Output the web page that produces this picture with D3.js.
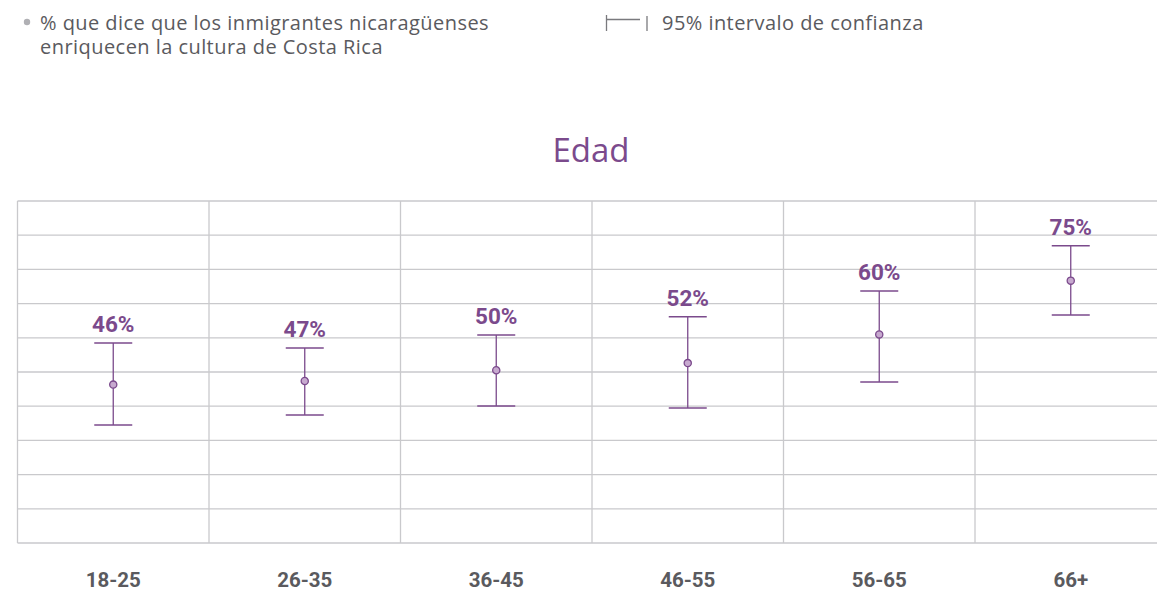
<!DOCTYPE html>
<html>
<head>
<meta charset="utf-8">
<script src="https://cdn.jsdelivr.net/npm/d3@7"></script>
<style>
  body { margin: 0; background: #fff; }
  text { font-family: "Open Sans", Lato, sans-serif; }
</style>
</head>
<body>
<div id="chart"></div>
<script>
// data
const groups = ['18-25', '26-35', '36-45', '46-55', '56-65', '66+'];
const values = [46, 47, 50, 52, 60, 75];
const lower = [34.7, 37.5, 40.0, 39.5, 46.7, 65.4];
const upper = [57.6, 56.2, 59.8, 64.9, 72.1, 84.7];
const gridTicks = d3.range(0, 11);

const purple = '#7b4a8c';
const grey = '#5a5a5e';
const width = 1157, height = 591;

const svg = d3.select('#chart').append('svg')
  .attr('width', width)
  .attr('height', height);

// scales
const x = d3.scaleBand()
  .domain(groups)
  .range([17.5, 17.5 + 6 * 191.5]);
const y = d3.scaleLinear()
  .domain([0, 100])
  .range([549.5, 191]);
const yGrid = d3.scaleLinear()
  .domain([0, 10])
  .range([543, 201]);

// grid
const grid = svg.append('g').attr('class', 'grid');
grid.selectAll('line.h')
  .data(gridTicks)
  .enter().append('line')
    .attr('class', 'h')
    .attr('x1', x.range()[0])
    .attr('x2', x.range()[1])
    .attr('y1', d => yGrid(d))
    .attr('y2', d => yGrid(d))
    .attr('stroke', '#c9c9cc')
    .attr('stroke-width', 1.3);
grid.selectAll('line.v')
  .data(groups)
  .enter().append('line')
    .attr('class', 'v')
    .attr('x1', d => x(d))
    .attr('x2', d => x(d))
    .attr('y1', yGrid(10))
    .attr('y2', yGrid(0))
    .attr('stroke', '#c9c9cc')
    .attr('stroke-width', 1.3);

// error bars
const capW = 19;
const bars = svg.append('g')
  .selectAll('g')
  .data(groups)
  .enter().append('g')
    .attr('transform', d => `translate(${x(d) + x.bandwidth() / 2},0)`);

bars.append('line')
  .attr('y1', (d, i) => y(lower[i]))
  .attr('y2', (d, i) => y(upper[i]))
  .attr('stroke', purple)
  .attr('stroke-width', 1.3);
bars.append('line')
  .attr('x1', -capW).attr('x2', capW)
  .attr('y1', (d, i) => y(upper[i]))
  .attr('y2', (d, i) => y(upper[i]))
  .attr('stroke', purple)
  .attr('stroke-width', 1.5);
bars.append('line')
  .attr('x1', -capW).attr('x2', capW)
  .attr('y1', (d, i) => y(lower[i]))
  .attr('y2', (d, i) => y(lower[i]))
  .attr('stroke', purple)
  .attr('stroke-width', 1.5);
bars.append('circle')
  .attr('cy', (d, i) => y(values[i]))
  .attr('r', 3.6)
  .attr('fill', '#c7a9cf')
  .attr('stroke', purple)
  .attr('stroke-width', 1.3);
bars.append('text')
  .attr('y', (d, i) => y(upper[i]) - 11)
  .attr('text-anchor', 'middle')
  .attr('fill', purple)
  .style('font-family', 'Roboto, sans-serif')
  .style('font-weight', 'bold')
  .style('font-size', '22.5px')
  .text((d, i) => values[i] + '%');

// x labels
svg.append('g')
  .selectAll('text')
  .data(groups)
  .enter().append('text')
    .attr('x', d => x(d) + x.bandwidth() / 2)
    .attr('y', 587)
    .attr('text-anchor', 'middle')
    .attr('fill', grey)
    .style('font-family', 'Roboto, sans-serif')
    .style('font-weight', 'bold')
    .style('font-size', '20.5px')
    .text(d => d);

// title
svg.append('text')
  .attr('x', 591)
  .attr('y', 162)
  .attr('text-anchor', 'middle')
  .attr('fill', purple)
  .style('font-size', '33px')
  .text('Edad');

// legend
const legend = svg.append('g')
  .attr('fill', grey)
  .style('font-size', '20px')
  .style('letter-spacing', '0.45px');
legend.append('circle')
  .attr('cx', 27).attr('cy', 22).attr('r', 3.2)
  .attr('fill', '#b0b0b4');
legend.append('text')
  .attr('x', 40).attr('y', 30)
  .text('% que dice que los inmigrantes nicaragüenses');
legend.append('text')
  .attr('x', 40).attr('y', 54)
  .text('enriquecen la cultura de Costa Rica');

const icon = legend.append('g').attr('stroke', '#7a7a7e').attr('stroke-width', 1.3);
icon.append('line').attr('x1', 606.5).attr('x2', 606.5).attr('y1', 15).attr('y2', 31);
icon.append('line').attr('x1', 606.5).attr('x2', 640).attr('y1', 19.5).attr('y2', 19.5);
icon.append('line').attr('x1', 647).attr('x2', 647).attr('y1', 16).attr('y2', 31);
legend.append('text')
  .attr('x', 662).attr('y', 30)
  .text('95% intervalo de confianza');
</script>
</body>
</html>
